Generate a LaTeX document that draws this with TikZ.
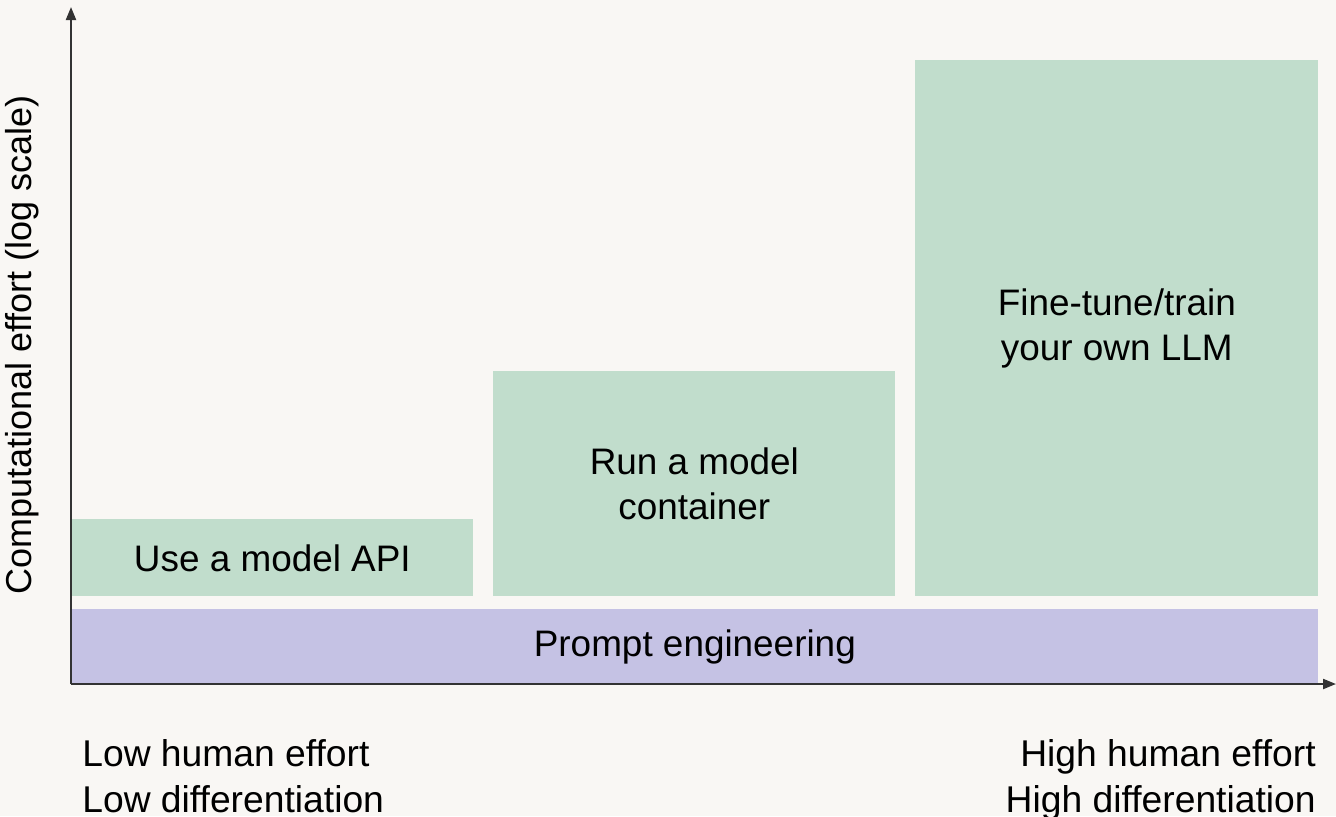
\documentclass[tikz,border=0pt]{standalone}
\usepackage{fontspec}
\setmainfont{Liberation Sans}
\usetikzlibrary{arrows.meta}

\definecolor{paper}{RGB}{249,247,244}
\definecolor{sage}{RGB}{193,221,204}
\definecolor{lilac}{RGB}{197,194,228}
\definecolor{axisgray}{RGB}{51,51,51}

\begin{document}
\begin{tikzpicture}[x = 0.02cm, y = -0.02cm, line join = round,
  every node/.style = {font = \fontsize{21}{25.6}\selectfont, text = black,
  align = center},
  block/.style = {anchor = north west, inner sep = 0pt},
  axis/.style = {axisgray, line width = 1.2pt,
  -{Triangle[length = 0.26cm, width = 0.2cm]}},
  corner/.style = {inner sep = 0pt, font = \fontsize{21.2}{26.1}\selectfont}]
  \fill[paper] (0, 0) rectangle (1336, 816);
  \useasboundingbox (0, 0) rectangle (1336, 816);

  \coordinate (O) at (71, 684);
  \coordinate (ytop) at (71, 7);
  \coordinate (xend) at (1336, 684);

  % effort blocks
  \node[block, fill = lilac, minimum width = 1247*0.02cm,
  minimum height = 75*0.02cm] (prompt) at (71, 609) {};
  \node at (prompt.center) {Prompt engineering};

  \node[block, fill = sage, minimum width = 402*0.02cm,
  minimum height = 77*0.02cm] (api) at (71, 519) {};
  \node at (api.center) {Use a model API};

  \node[block, fill = sage, minimum width = 402*0.02cm,
  minimum height = 225*0.02cm] (container) at (493, 371) {};
  \node at (container.center) {Run a model\\container};

  \node[block, fill = sage, minimum width = 403*0.02cm,
  minimum height = 536*0.02cm] (finetune) at (915, 60) {};
  \node at (finetune.center) {Fine-tune/train\\your own LLM};

  % axes
  \draw[axis] (O) -- (ytop);
  \draw[axis] (O) -- (xend);

  \node[rotate = 90, font = \fontsize{20.5}{24}\selectfont] (ylabel)
  at (22, 345) {Computational effort (log scale)};

  \node[corner, anchor = north west, align = left] (low)
  at (82, 739) {Low human effort\\Low differentiation};
  \node[corner, anchor = north east, align = right] (high)
  at (1316, 739) {High human effort\\High differentiation};
\end{tikzpicture}
\end{document}
